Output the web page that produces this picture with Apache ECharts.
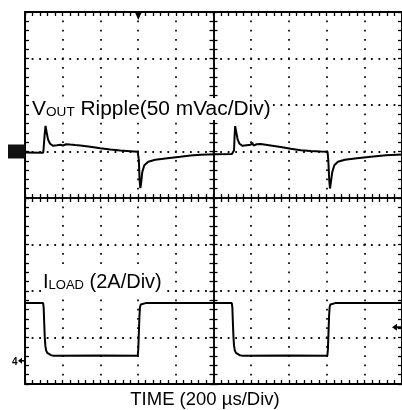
<!DOCTYPE html>
<html>
<head>
<meta charset="utf-8">
<script src="https://cdn.jsdelivr.net/npm/echarts@6/dist/echarts.min.js"></script>
<style>
  html, body { margin: 0; padding: 0; background: #fff; }
  #chart { width: 402px; height: 410px; }
</style>
</head>
<body>
<div id="chart"></div>
<script>
// Horizontal: 200 µs per division, 10 divisions
const timeRange = [0, 2000];
// Channel 1 (output ripple): 50 mV/div, reference 1 div above centre
const voutRange = [-250, 150];
// Channel 4 (load current): 2 A/div, reference 3.5 div below centre
const iloadRange = [-1, 15];

// Output ripple, [time µs, mV]
const voutTime = [0, 96, 98, 104, 109, 114, 122, 133, 149, 170, 186, 194, 202, 218, 239, 266, 293, 346, 399, 452, 505, 559, 598, 604, 608, 612, 616, 622, 633, 654, 691, 755, 824, 878, 931, 1011, 1098,
  1106, 1109, 1112, 1115, 1120, 1128, 1138, 1154, 1176, 1197, 1205, 1213, 1229, 1250, 1277, 1303, 1356, 1410, 1463, 1516, 1569, 1605, 1609, 1614, 1618, 1622, 1630, 1641, 1660, 1697, 1761, 1835, 1915, 2000];
const voutMv = [-1.2, -1.4, 1.3, 17.4, 27.5, 21.7, 13.1, 8.3, 6.1, 6.7, 7.2, 9.0, 6.5, 7.8, 7.4, 6.9, 6.5, 5.1, 3.5, 2.1, 1.0, 0.3, -0.3, -9.4, -30.8, -39.3, -34.0, -22.2, -14.7, -11.0, -8.8, -7.2, -5.6, -4.2, -3.6, -2.9, -2.6,
  -2.4, 1.3, 17.4, 27.3, 21.7, 13.1, 8.3, 6.1, 6.7, 7.2, 9.4, 6.4, 7.8, 8.0, 7.2, 6.4, 4.8, 2.9, 1.3, 0.5, -0.1, -0.4, -9.4, -30.8, -39.8, -34.0, -22.2, -14.7, -11.0, -8.8, -7.2, -5.6, -4.0, -3.2];

// Load current, [time µs, A]
const iloadTime = [0, 96, 99, 102, 105, 108, 112, 118, 126, 138, 150, 400, 598, 601, 604, 607, 610, 614, 622, 640,
  1097, 1100, 1103, 1106, 1109, 1113, 1119, 1127, 1139, 1151, 1400, 1604, 1607, 1610, 1613, 1616, 1620, 1628, 1646, 2000];
const iloadAmp = [2.48, 2.48, 2.3, 1.6, 1.0, 0.65, 0.45, 0.34, 0.28, 0.24, 0.22, 0.23, 0.22, 0.5, 1.2, 1.9, 2.3, 2.42, 2.47, 2.48,
  2.48, 2.3, 1.6, 1.0, 0.65, 0.45, 0.34, 0.28, 0.24, 0.22, 0.23, 0.22, 0.5, 1.2, 1.9, 2.3, 2.42, 2.47, 2.48, 2.48];

// Trigger: position on the time axis and level on channel 4
const triggerTime = 601;
const triggerLevel = 1.44;

const voutLabel = ['V', 'OUT', ' Ripple(50 mVac/Div)'];
const iloadLabel = ['I', 'LOAD', ' (2A/Div)'];
const timeLabel = 'TIME (200 µs/Div)';

const FONT = '"Liberation Sans", Arial, Helvetica, sans-serif';
const G = { left: 25, top: 12, width: 377, height: 372 };
const stepX = G.width / 50;   // minor division, horizontal
const stepY = G.height / 40;  // minor division, vertical
const DOT = 1.8;

const chart = echarts.init(document.getElementById('chart'), null, { renderer: 'canvas' });

const tickStyle = { color: '#000', width: 1.3 };
function borderAxis(kind, gridIndex, position, divs, split) {
  const ax = {
    type: 'value', gridIndex, position, min: 0, max: divs, interval: 1,
    axisLine: { show: true, onZero: false, lineStyle: { color: '#000', width: 2 } },
    axisTick: { show: true, inside: true, length: 4, lineStyle: tickStyle },
    minorTick: { show: true, splitNumber: 5, length: 4, lineStyle: tickStyle },
    axisLabel: { show: false },
    splitLine: { show: false }
  };
  if (split) {
    const step = kind === 'x' ? stepY : stepX;
    ax.splitLine = {
      show: true,
      lineStyle: { color: '#111', width: DOT, type: [DOT, step - DOT], dashOffset: DOT / 2 }
    };
  }
  return ax;
}
function centreAxis(gridIndex, half, inside) {
  return {
    type: 'value', gridIndex, min: -half, max: half, interval: 1,
    axisLine: { show: true, onZero: true, lineStyle: { color: '#000', width: 1.5 } },
    axisTick: { show: true, inside, length: 4, lineStyle: tickStyle },
    minorTick: { show: true, splitNumber: 5, length: 4, lineStyle: tickStyle },
    axisLabel: { show: false },
    splitLine: { show: false }
  };
}

const option = {
  animation: false,
  backgroundColor: '#fff',
  grid: [G, G, G, G].map(g => Object.assign({ containLabel: false }, g)),
  xAxis: [
    borderAxis('x', 0, 'bottom', 10, true),
    borderAxis('x', 0, 'top', 10, false),
    centreAxis(1, 5, true),
    centreAxis(2, 5, false),
    { type: 'value', gridIndex: 3, min: timeRange[0], max: timeRange[1], show: false }
  ],
  yAxis: [
    borderAxis('y', 0, 'left', 8, true),
    borderAxis('y', 0, 'right', 8, false),
    centreAxis(1, 4, true),
    centreAxis(2, 4, false),
    { type: 'value', gridIndex: 3, min: voutRange[0], max: voutRange[1], show: false },
    { type: 'value', gridIndex: 3, min: iloadRange[0], max: iloadRange[1], show: false }
  ],
  series: [
    {
      name: 'VOUT', type: 'line', xAxisIndex: 4, yAxisIndex: 4,
      data: voutTime.map((t, i) => [t, voutMv[i]]),
      showSymbol: false, smooth: false, z: 10,
      lineStyle: { color: '#000', width: 2 }
    },
    {
      name: 'ILOAD', type: 'line', xAxisIndex: 4, yAxisIndex: 5,
      data: iloadTime.map((t, i) => [t, iloadAmp[i]]),
      showSymbol: false, smooth: false, z: 10,
      lineStyle: { color: '#000', width: 2 }
    }
  ]
};
chart.setOption(option);

// Channel reference markers and trigger markers, placed through the data axes
const px = (pt, yIdx) => chart.convertToPixel({ xAxisIndex: 4, yAxisIndex: yIdx }, pt);
const ch1 = px([timeRange[0], 0], 4);
const ch4 = px([timeRange[0], 0], 5);
const trgLevel = px([timeRange[1], triggerLevel], 5);
const trgPos = px([triggerTime, voutRange[1]], 4);

function richLabel(parts) {
  return '{a|' + parts[0] + '}{b|' + parts[1] + '}{a|' + parts[2] + '}';
}
const rich = {
  a: { fontSize: 20, fontFamily: FONT, fill: '#000', lineHeight: 20, verticalAlign: 'bottom' },
  b: { fontSize: 13, fontFamily: FONT, fill: '#000', lineHeight: 13, verticalAlign: 'bottom' }
};

chart.setOption({
  graphic: [
    // channel 1 ground marker
    { type: 'rect', shape: { x: ch1[0] - 17, y: ch1[1] - 7, width: 17, height: 14 }, style: { fill: '#111' }, z: 20 },
    // channel 4 ground marker
    { type: 'text', style: { x: ch4[0] - 13, y: ch4[1] + 1, text: '4', fontSize: 10, fontWeight: 'bold', fontFamily: FONT, fill: '#000', align: 'left', verticalAlign: 'middle' }, z: 20 },
    { type: 'polygon', shape: { points: [[ch4[0] - 7, ch4[1]], [ch4[0] - 3, ch4[1] - 3], [ch4[0] - 3, ch4[1] + 3]] }, style: { fill: '#000' }, z: 20 },
    { type: 'line', shape: { x1: ch4[0] - 4, y1: ch4[1], x2: ch4[0], y2: ch4[1] }, style: { stroke: '#000', lineWidth: 1.5 }, z: 20 },
    // trigger level
    { type: 'polygon', shape: { points: [[trgLevel[0] - 10, trgLevel[1]], [trgLevel[0] - 5, trgLevel[1] - 3.5], [trgLevel[0] - 5, trgLevel[1] + 3.5]] }, style: { fill: '#000' }, z: 20 },
    { type: 'line', shape: { x1: trgLevel[0] - 6, y1: trgLevel[1], x2: trgLevel[0], y2: trgLevel[1] }, style: { stroke: '#000', lineWidth: 2 }, z: 20 },
    // trigger position
    { type: 'polygon', shape: { points: [[trgPos[0] - 3.5, trgPos[1]], [trgPos[0] + 3.5, trgPos[1]], [trgPos[0], trgPos[1] + 8]] }, style: { fill: '#000' }, z: 20 },
    // channel captions
    { type: 'text', z: 15, x: 30, y: 120, scaleX: 1.045, style: { x: 0, y: 0, text: richLabel(voutLabel), rich, verticalAlign: 'bottom', backgroundColor: '#fff', padding: [1, 2, 1, 2] } },
    { type: 'text', z: 15, style: { x: 41, y: 293, text: richLabel(iloadLabel), rich, verticalAlign: 'bottom', backgroundColor: '#fff', padding: [1, 2, 1, 2] } },
    { type: 'text', z: 15, style: { x: 205, y: 409, text: timeLabel, fontSize: 18.5, fontFamily: FONT, fill: '#000', align: 'center', verticalAlign: 'bottom' } }
  ]
});
</script>
</body>
</html>
